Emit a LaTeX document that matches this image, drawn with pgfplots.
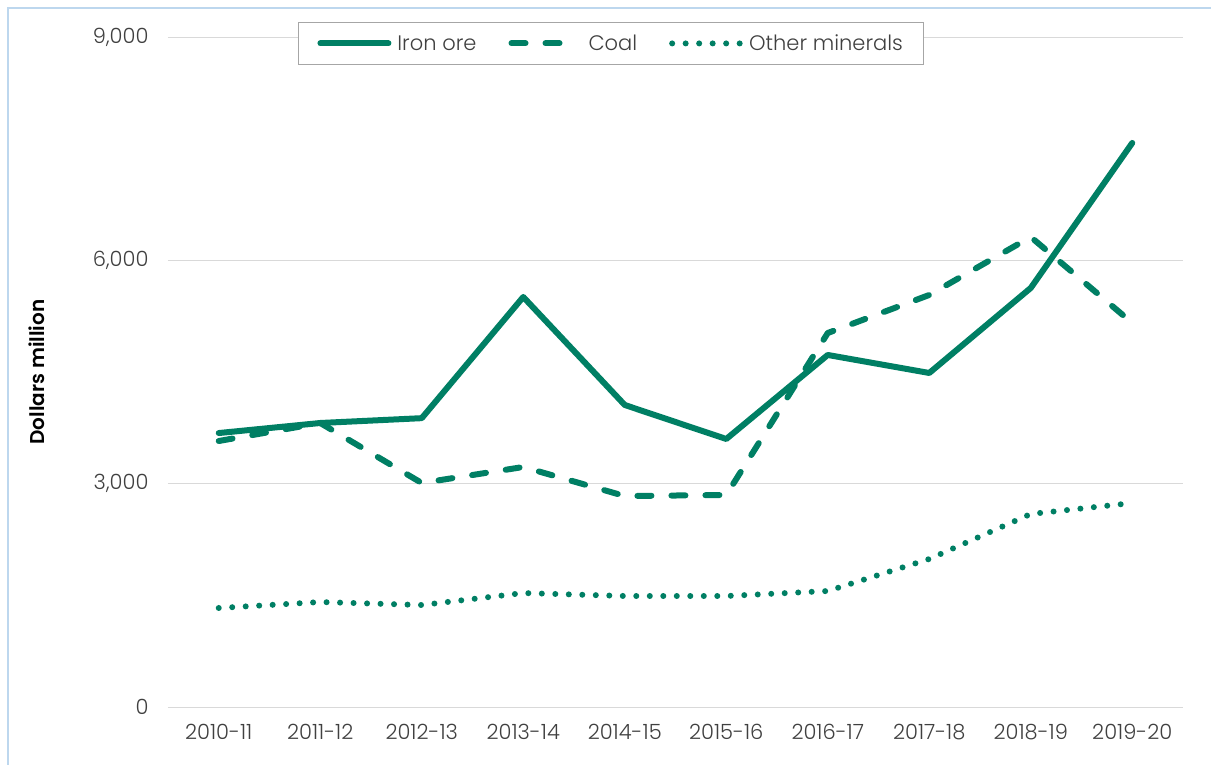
\documentclass[border=0pt]{standalone}
\usepackage{pgfplots}
\pgfplotsset{compat=1.18}
\usepackage{fontspec}
\setmainfont{Poppins}[UprightFont=* Light]
\definecolor{teal}{HTML}{007F64}
\definecolor{ticktext}{HTML}{404040}
\definecolor{gridc}{HTML}{D9D9D9}
\definecolor{frame}{HTML}{BDD7EE}
\begin{document}
\begin{tikzpicture}[x=1pt,y=1pt]
\useasboundingbox (-168,-57) rectangle (1043,707);
\draw[frame, line width=1.5pt] (-160,-60) -- (-160,699) -- (1050,699);
\begin{axis}[
  at={(0,0)}, anchor=south west,
  scale only axis, width=1015pt, height=670pt,
  xmin=-0.5, xmax=9.5, ymin=0, ymax=9000,
  xtick={0,...,9},
  xticklabels={2010-11,2011-12,2012-13,2013-14,2014-15,2015-16,2016-17,2017-18,2018-19,2019-20},
  ytick={0,3000,6000,9000},
  /pgf/number format/assume math mode=true,
  /pgf/number format/1000 sep={,},
  scaled y ticks=false,
  axis line style={draw=none},
  major tick length=0pt,
  ymajorgrids, grid style={gridc, line width=1pt},
  tick label style={font=\fontsize{21}{24}\selectfont, text=ticktext},
  xticklabel style={yshift=-14pt},
  yticklabel style={xshift=-16pt},
  ylabel={\textbf{Dollars million}},
  ylabel style={font=\fontsize{20}{24}\selectfont, at={(axis description cs:-0.129,0.5)}, anchor=center},
  legend columns=3,
  legend style={at={(axis description cs:0.128,1.022)}, anchor=north west, draw=gray!70, line width=1pt, fill=white,
    font=\fontsize{21}{24}\selectfont, text=ticktext, inner xsep=19pt, inner ysep=10pt,
    /tikz/every odd column/.append style={column sep=4pt},
    /tikz/every even column/.append style={column sep=30pt}},
  legend image code/.code={\draw[#1] (0pt,0pt) -- (68pt,0pt);},
]
\addplot[teal, line width=6pt, line cap=round, line join=round] coordinates {
(0,3680) (1,3815) (2,3880) (3,5508) (4,4057) (5,3600) (6,4729) (7,4487) (8,5629) (9,7577)};
\addlegendentry{Iron ore}
\addplot[teal, line width=6pt, line cap=round, line join=round, dash pattern=on 14pt off 20pt] coordinates {
(0,3573) (1,3815) (2,3009) (3,3224) (4,2834) (5,2848) (6,5024) (7,5535) (8,6314) (9,5158)};
\addlegendentry{Coal}
\addplot[teal, line width=6pt, line cap=round, line join=round, dash pattern=on 0pt off 13.5pt] coordinates {
(0,1330) (1,1410) (2,1370) (3,1531) (4,1491) (5,1491) (6,1558) (7,1988) (8,2593) (9,2740)};
\addlegendentry{Other minerals}
\end{axis}
\end{tikzpicture}
\end{document}
